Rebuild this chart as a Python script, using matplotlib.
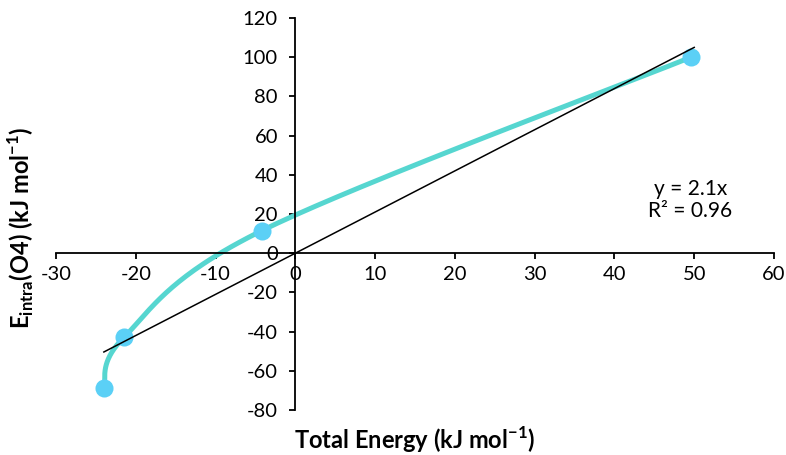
import numpy as np
import matplotlib
matplotlib.use("Agg")
import matplotlib.pyplot as plt

plt.rcParams['font.family'] = ['Lato', 'DejaVu Sans']
plt.rcParams['axes.unicode_minus'] = False
plt.rcParams['mathtext.fontset'] = 'custom'
plt.rcParams['mathtext.rm'] = 'Lato'
plt.rcParams['mathtext.bf'] = 'Lato:bold'

total_energy = [-24.0, -21.5, -4.2, 49.6]
e_intra = [-69.0, -43.0, 11.5, 100.0]
slope = 2.1
trend_x = [-24.0, 50.0]
xticks = list(range(-30, 61, 10))
yticks = list(range(-80, 121, 20))


def smooth(xs, ys, n=60):
    # Excel-like smoothed line: Bezier segments with Catmull-Rom control points
    p = np.column_stack([xs, ys])
    out = []
    for i in range(len(p) - 1):
        p0 = p[i - 1] if i > 0 else p[i]
        p1, p2 = p[i], p[i + 1]
        p3 = p[i + 2] if i + 2 < len(p) else p[i + 1]
        c1 = p1 + (p2 - p0) / 6
        c2 = p2 - (p3 - p1) / 6
        t = np.linspace(0, 1, n)[:, None]
        seg = (1 - t) ** 3 * p1 + 3 * (1 - t) ** 2 * t * c1 + 3 * (1 - t) * t ** 2 * c2 + t ** 3 * p2
        out.append(seg)
    s = np.vstack(out)
    return s[:, 0], s[:, 1]


fig = plt.figure(figsize=(7.86, 4.55), dpi=100)
ax = fig.add_axes([56 / 786, 1 - 410 / 455, 718 / 786, 392 / 455])

sx, sy = smooth(total_energy, e_intra)
ax.plot(sx, sy, color='#56d6d0', lw=3.6, solid_capstyle='round', zorder=2)
ax.plot(total_energy, e_intra, 'o', color='#5bd0f6', ms=13, mec='none', zorder=3)
tx = np.array(trend_x)
ax.plot(tx, slope * tx, color='black', lw=1.1, zorder=4)

ax.set_xlim(-30, 60)
ax.set_ylim(-80, 120)
ax.set_xticks(xticks)
ax.set_yticks(yticks)
ax.spines['left'].set_position(('data', 0))
ax.spines['bottom'].set_position(('data', 0))
ax.spines['right'].set_visible(False)
ax.spines['top'].set_visible(False)
for s in ('left', 'bottom'):
    ax.spines[s].set_linewidth(1.3)
ax.tick_params(direction='out', length=4.5, width=1.3, labelsize=14.5)
ax.tick_params(axis='y', pad=8)
ax.tick_params(axis='x', pad=5)

ax.text(0.5, -0.077, 'Total Energy (kJ mol$^{\\mathbf{-1}}$)', transform=ax.transAxes,
        ha='center', va='center', fontsize=17, fontweight='bold')
fig.text(0.026, 0.5, r'$\mathbf{E}_{\mathbf{intra}}$' + '(O4) (kJ mol$^{\\mathbf{-1}}$)',
         rotation=90, ha='center', va='center', fontsize=17, fontweight='bold')

ax.text(49.5, 27, 'y = 2.1x\nR² = 0.96', ha='center', va='center', fontsize=15,
        linespacing=1.1)

fig.savefig('out.png', dpi=100)
